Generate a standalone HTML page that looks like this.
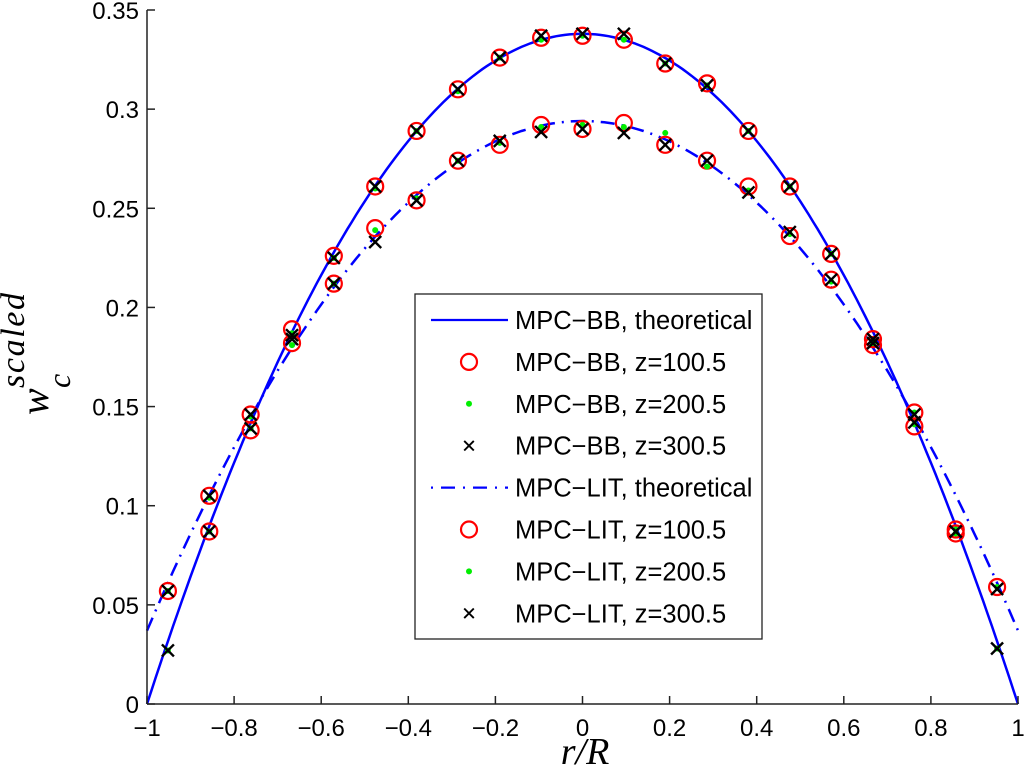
<!DOCTYPE html>
<html><head><meta charset="utf-8"><style>
html,body{margin:0;padding:0;background:#fff;}
svg text{font-family:"Liberation Sans",sans-serif;}
svg text.serif{font-family:"Liberation Serif",serif;font-style:italic;}
</style></head><body>
<svg id="chart" width="1024" height="774" xmlns="http://www.w3.org/2000/svg">
<g id="plot"></g>
<g id="axes"></g>
<text class="serif" x="585" y="764" text-anchor="middle" font-size="38">r/R</text>
<g transform="rotate(-90)">
<text class="serif" x="-415" y="48" font-size="40">w</text>
<text class="serif" x="-388" y="24" font-size="34" textLength="95">scaled</text>
<text class="serif" x="-388" y="70" font-size="32">c</text>
</g>
<g id="legend"></g>
</svg>
<script>
const categories=[-0.952,-0.857,-0.762,-0.667,-0.571,-0.476,-0.381,-0.286,-0.190,-0.095,0,0.095,0.190,0.286,0.381,0.476,0.571,0.667,0.762,0.857,0.952];
const bb100=[null,0.087,0.146,0.189,0.226,0.261,0.289,0.310,0.326,0.336,0.337,0.335,0.323,0.313,0.289,0.261,0.227,0.184,0.147,0.088,null];
const bb200=[0.027,0.087,0.145,0.187,0.225,0.260,0.289,0.309,0.326,0.335,0.337,0.335,0.323,0.312,0.289,0.261,0.227,0.183,0.147,0.088,0.028];
const bb300=[0.027,0.087,0.146,0.186,0.225,0.261,0.289,0.310,0.326,0.337,0.338,0.338,0.323,0.312,0.289,0.261,0.227,0.184,0.146,0.087,0.028];
const lit100=[0.057,0.105,0.138,0.182,0.212,0.240,0.254,0.274,0.282,0.292,0.290,0.293,0.282,0.274,0.261,0.236,0.214,0.181,0.140,0.086,0.059];
const lit200=[0.057,0.104,0.139,0.181,0.212,0.239,0.255,0.274,0.283,0.291,0.292,0.291,0.288,0.271,0.259,0.237,0.213,0.182,0.141,0.086,0.059];
const lit300=[0.057,0.105,0.139,0.184,0.212,0.233,0.254,0.274,0.284,0.2885,0.290,0.288,0.282,0.274,0.258,0.238,0.214,0.182,0.142,0.087,0.058];
const bbPeak=[0.338];
const litPeak=[0.294];
const litEdge=[0.037];
const xTicks=[-1,-0.8,-0.6,-0.4,-0.2,0,0.2,0.4,0.6,0.8,1];
const xTickLabels=["\u22121","\u22120.8","\u22120.6","\u22120.4","\u22120.2","0","0.2","0.4","0.6","0.8","1"];
const yTicks=[0,0.05,0.1,0.15,0.2,0.25,0.3,0.35];
const yTickLabels=["0","0.05","0.1","0.15","0.2","0.25","0.3","0.35"];

const X0=147,X1=1018,Y0=704,Y1=10;
const sx=v=>X0+(v+1)/2*(X1-X0);
const sy=v=>Y0-v/0.35*(Y0-Y1);
const NS="http://www.w3.org/2000/svg";
function mk(tag,attrs,parent){const e=document.createElementNS(NS,tag);for(const k in attrs)e.setAttribute(k,attrs[k]);parent.appendChild(e);return e;}
const plot=document.getElementById('plot'),axes=document.getElementById('axes'),leg=document.getElementById('legend');

let d1='',d2='';
for(let i=0;i<=200;i++){const x=-1+i/100;
 const y1=bbPeak[0]*(1-x*x);const y2=litPeak[0]-(litPeak[0]-litEdge[0])*x*x;
 d1+=(i?'L':'M')+sx(x).toFixed(1)+','+sy(y1).toFixed(1);
 d2+=(i?'L':'M')+sx(x).toFixed(1)+','+sy(y2).toFixed(1);}
let p=mk('path',{d:d1,fill:'none',stroke:'#0000ff','stroke-width':2.5},plot);


p=mk('path',{d:d2,fill:'none',stroke:'#0000ff','stroke-width':2.5,'stroke-dasharray':'14,7,2,7'},plot);



function circle(cx,cy,par){return mk('circle',{cx:cx,cy:cy,r:8,fill:'none',stroke:'#ff0000','stroke-width':2.2},par);}
function dot(cx,cy,par){return mk('circle',{cx:cx,cy:cy,r:3,fill:'#00ee00'},par);}
function cross(cx,cy,par){const s=6;return mk('path',{d:`M${cx-s},${cy-s}L${cx+s},${cy+s}M${cx-s},${cy+s}L${cx+s},${cy-s}`,stroke:'#000','stroke-width':2.4},par);}
const series=[[bb100,circle,'bb-z100'],[lit100,circle,'lit-z100'],[bb200,dot,'bb-z200'],[lit200,dot,'lit-z200'],[bb300,cross,'bb-z300'],[lit300,cross,'lit-z300']];
series.forEach(([arr,fn,name])=>{arr.forEach((v,i)=>{if(v===null)return;const e=fn(sx(categories[i]),sy(v),plot);
 
 });});

let a=mk('line',{x1:X0,y1:Y0,x2:X1,y2:Y0,stroke:'#222','stroke-width':1.5},axes);


a=mk('line',{x1:X0,y1:Y0,x2:X0,y2:Y1,stroke:'#222','stroke-width':1.5},axes);


xTicks.forEach((v,i)=>{const x=sx(v);mk('line',{x1:x,y1:Y0,x2:x,y2:Y0-8,stroke:'#222','stroke-width':1.5},axes);
 const t=mk('text',{x:x,y:Y0+32,'text-anchor':'middle','font-size':24},axes);t.textContent=xTickLabels[i];
 
 });
yTicks.forEach((v,i)=>{const y=sy(v);mk('line',{x1:X0,y1:y,x2:X0+8,y2:y,stroke:'#222','stroke-width':1.5},axes);
 const t=mk('text',{x:X0-8,y:y+9,'text-anchor':'end','font-size':24},axes);t.textContent=yTickLabels[i];
 
 });

mk('rect',{x:415,y:294,width:347,height:345,fill:'#fff',stroke:'#222','stroke-width':1.3},leg);
const labels=["MPC\u2212BB, theoretical","MPC\u2212BB, z=100.5","MPC\u2212BB, z=200.5","MPC\u2212BB, z=300.5","MPC\u2212LIT, theoretical","MPC\u2212LIT, z=100.5","MPC\u2212LIT, z=200.5","MPC\u2212LIT, z=300.5"];
labels.forEach((l,i)=>{const y=320+i*41.9;
 const g=mk('g',{},leg);
 
 
 const k=i%4;
 if(k===0)mk('line',{x1:431,y1:y,x2:508,y2:y,stroke:'#0000ff','stroke-width':2.2,'stroke-dasharray':i?'2,8,14,8':'none'},g);
 else if(k===1)circle(469,y,g);else if(k===2)dot(469,y,g);else{const e=cross(469,y,g);e.setAttribute('transform',`translate(${469*0.2},${y*0.2}) scale(0.8)`);}
 const t=mk('text',{x:515,y:y+9,'font-size':25.5},g);t.textContent=l;});
</script>
</body></html>
